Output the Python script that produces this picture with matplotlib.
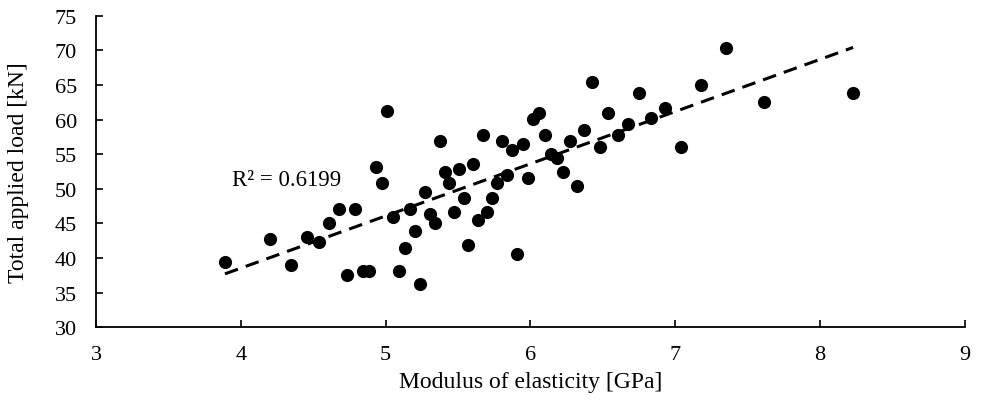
import numpy as np
import matplotlib
matplotlib.use("Agg")
import matplotlib.pyplot as plt

modulus_gpa = [3.889, 4.200, 4.346, 4.454, 4.537, 4.611, 4.675, 4.788, 4.733, 4.841,
               4.887, 4.931, 4.974, 5.011, 5.053, 5.168, 5.094, 5.131, 5.205, 5.239,
               5.274, 5.306, 5.341, 5.373, 5.408, 5.440, 5.472, 5.507, 5.539, 5.571,
               5.603, 5.636, 5.670, 5.702, 5.737, 5.769, 5.806, 5.840, 5.875, 5.910,
               5.947, 5.986, 6.020, 6.062, 6.101, 6.140, 6.182, 6.227, 6.274, 6.322,
               6.373, 6.426, 6.481, 6.538, 6.605, 6.672, 6.751, 6.834, 6.932, 7.043,
               7.179, 7.354, 7.612, 8.230]
load_kn = [39.4, 42.7, 39.0, 43.05, 42.3, 45.1, 47.1, 47.1, 37.5, 38.2,
           38.2, 53.2, 50.85, 61.3, 45.9, 47.1, 38.2, 41.5, 43.9, 36.2,
           49.6, 46.4, 45.1, 56.9, 52.4, 50.85, 46.7, 52.8, 48.7, 41.85,
           53.6, 45.5, 57.7, 46.7, 48.7, 50.8, 56.9, 52.0, 55.65, 40.6,
           56.5, 51.6, 60.1, 60.95, 57.7, 55.0, 54.4, 52.4, 56.9, 50.4,
           58.5, 65.4, 56.1, 60.95, 57.7, 59.3, 63.8, 60.2, 61.7, 56.1,
           65.0, 70.3, 62.6, 63.8]
r2_label = "R² = 0.6199"
x_ticks = [3, 4, 5, 6, 7, 8, 9]
y_ticks = [30, 35, 40, 45, 50, 55, 60, 65, 70, 75]

plt.rcParams['font.family'] = ['Liberation Serif', 'DejaVu Serif']

fig = plt.figure(figsize=(9.84, 4.10), dpi=100)
ax = fig.add_axes([0.0979, 0.1993, 0.8823, 0.7600])

x = np.array(modulus_gpa)
y = np.array(load_kn)
ax.scatter(x, y, s=90, color='black', zorder=3, linewidths=0)

coef = np.polyfit(x, y, 1)
xl = np.array([x.min(), x.max()])
ax.plot(xl, np.polyval(coef, xl), color='black', lw=2.2,
        linestyle=(0, (4.5, 2.7)), zorder=2)

ax.text(3.94, 51.4, r2_label, fontsize=16.5, va='center', ha='left')

ax.set_xlim(3, 9)
ax.set_ylim(30, 75)
ax.set_xticks(x_ticks)
ax.set_yticks(y_ticks)
ax.tick_params(direction='in', length=5, width=1.2, labelsize=16)
ax.tick_params(axis='y', pad=14)
ax.tick_params(axis='x', pad=13)
for s in ['top', 'right']:
    ax.spines[s].set_visible(False)
for s in ['left', 'bottom']:
    ax.spines[s].set_linewidth(1.3)

ax.set_xlabel('Modulus of elasticity [GPa]', fontsize=17, labelpad=5)
ax.set_ylabel('Total applied load [kN]', fontsize=17)
ax.yaxis.set_label_coords(-0.078, 0.5)

fig.savefig('out.png', dpi=100)
